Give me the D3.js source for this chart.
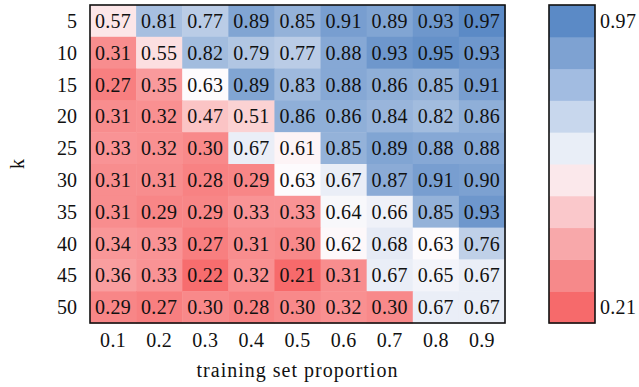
<!DOCTYPE html>
<html>
<head>
<meta charset="utf-8">
<script src="https://cdn.jsdelivr.net/npm/d3@7"></script>
<style>
  html, body { margin: 0; padding: 0; background: #fff; }
  text { font-family: "Liberation Serif", "DejaVu Serif", serif; fill: #111; }
</style>
</head>
<body>
<svg id="chart" width="639" height="387"></svg>
<script>
const proportions = ["0.1","0.2","0.3","0.4","0.5","0.6","0.7","0.8","0.9"];
const ks = ["5","10","15","20","25","30","35","40","45","50"];
const values = [
  [0.57,0.81,0.77,0.89,0.85,0.91,0.89,0.93,0.97],
  [0.31,0.55,0.82,0.79,0.77,0.88,0.93,0.95,0.93],
  [0.27,0.35,0.63,0.89,0.83,0.88,0.86,0.85,0.91],
  [0.31,0.32,0.47,0.51,0.86,0.86,0.84,0.82,0.86],
  [0.33,0.32,0.30,0.67,0.61,0.85,0.89,0.88,0.88],
  [0.31,0.31,0.28,0.29,0.63,0.67,0.87,0.91,0.90],
  [0.31,0.29,0.29,0.33,0.33,0.64,0.66,0.85,0.93],
  [0.34,0.33,0.27,0.31,0.30,0.62,0.68,0.63,0.76],
  [0.36,0.33,0.22,0.32,0.21,0.31,0.67,0.65,0.67],
  [0.29,0.27,0.30,0.28,0.30,0.32,0.30,0.67,0.67]
];
const barColors = ["#f66a6b","#f6898a","#f8a8aa","#fac8cb","#fbe8eb","#e9eef7","#c8d7ed","#a2bce1","#7ea2d2","#5b8ac6"];
const barLabels = ["0.21","0.97"];

const svg = d3.select("#chart");
const L = 90, R = 505, T = 5, B = 323;

const x = d3.scaleBand().domain(proportions).range([L, R]);
const y = d3.scaleBand().domain(ks).range([T, B]);
const color = d3.scaleLinear().domain([0.21, 0.63, 0.97])
  .range(["#f76a6b", "#fdfbfd", "#5b8ac6"]).clamp(true);

const cells = [];
values.forEach((row, i) => row.forEach((v, j) => cells.push({k: ks[i], p: proportions[j], v})));

const g = svg.append("g");
g.selectAll("rect.cell").data(cells).join("rect")
  .attr("class", "cell")
  .attr("x", d => x(d.p)).attr("y", d => y(d.k))
  .attr("width", x.bandwidth() + 0.5).attr("height", y.bandwidth() + 0.5)
  .attr("fill", d => color(d.v));
g.selectAll("text.val").data(cells).join("text")
  .attr("class", "val")
  .attr("x", d => x(d.p) + x.bandwidth() / 2)
  .attr("y", d => y(d.k) + y.bandwidth() / 2)
  .attr("text-anchor", "middle").attr("dominant-baseline", "central")
  .style("font-size", "20px").style("letter-spacing", "0.3px")
  .text(d => d.v.toFixed(2));
g.append("rect").attr("x", L).attr("y", T).attr("width", R - L).attr("height", B - T)
  .attr("fill", "none").attr("stroke", "#111").attr("stroke-width", 1.6);

// axes
const ax = svg.append("g").attr("transform", `translate(0,${B + 6})`)
  .call(d3.axisBottom(x).tickSize(0).tickPadding(4));
ax.select(".domain").remove();
ax.selectAll("text").style("font-size", "20px").style("letter-spacing", "0.3px").attr("fill", "#111");

const ay = svg.append("g").attr("transform", `translate(${L - 9},0)`)
  .call(d3.axisLeft(y).tickSize(0).tickPadding(4));
ay.select(".domain").remove();
ay.selectAll("text").style("font-size", "20px").attr("fill", "#111").attr("dy", "0.35em");

svg.append("text").attr("x", (L + R) / 2).attr("y", 377)
  .attr("text-anchor", "middle").style("font-size", "20px").style("letter-spacing", "1px")
  .text("training set proportion");
svg.append("text").attr("transform", `translate(24,${(T + B) / 2}) rotate(-90)`)
  .attr("text-anchor", "middle").style("font-size", "20px").text("k");

// colorbar
const CL = 549, CR = 595;
const cb = d3.scaleBand().domain(d3.range(barColors.length)).range([B, T]);
svg.append("g").selectAll("rect").data(barColors).join("rect")
  .attr("x", CL).attr("y", (d, i) => cb(i))
  .attr("width", CR - CL).attr("height", cb.bandwidth() + 0.5)
  .attr("fill", d => d);
svg.append("rect").attr("x", CL).attr("y", T).attr("width", CR - CL).attr("height", B - T)
  .attr("fill", "none").attr("stroke", "#111").attr("stroke-width", 1.6);
const labelIdx = [0, barColors.length - 1];
svg.append("g").selectAll("text").data(barLabels).join("text")
  .attr("x", CR + 5)
  .attr("y", (d, i) => cb(labelIdx[i]) + cb.bandwidth() / 2)
  .attr("dominant-baseline", "central")
  .style("font-size", "20px").style("letter-spacing", "0.3px")
  .text(d => d);
</script>
</body>
</html>
